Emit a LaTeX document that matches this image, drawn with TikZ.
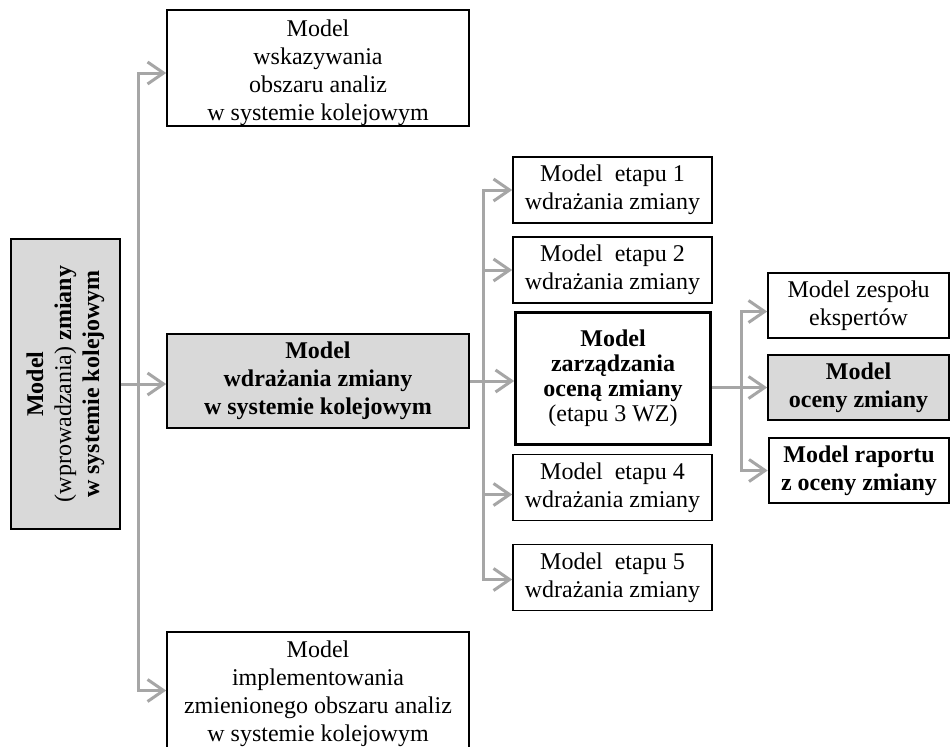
\documentclass[tikz,border=0pt]{standalone}
\usepackage{fontspec}
\setmainfont{Liberation Serif}
\usetikzlibrary{arrows.meta,calc}
\definecolor{boxgray}{HTML}{D9D9D9}
\definecolor{linkgray}{HTML}{A6A6A6}
\tikzset{
  box/.style={draw=black, line width=1.6pt, fill=white, inner sep=0pt, align=center,
              font=\fontsize{24pt}{28pt}\selectfont},
  boldbox/.style={box, font=\fontsize{24pt}{28pt}\selectfont\bfseries},
  shaded/.style={fill=boxgray},
  heavy/.style={line width=2.6pt},
  stagebox/.style={box, minimum width=199pt, minimum height=66pt},
  sidebox/.style={minimum width=181pt, minimum height=65pt},
  link/.style={draw=linkgray, line width=3pt},
  arr/.style={link, -{Straight Barb[length=16pt,width=22pt]}},
}
\begin{document}
\begin{tikzpicture}[x=1pt,y=-1pt]
\useasboundingbox (0,0) rectangle (951,747);
\fill[white] (0,0) rectangle (951,747);

% main model, rotated (its south side faces right)
\node[boldbox, shaded, rotate=90, minimum width=290pt, minimum height=109pt] (L) at (65.5,384)
  {Model\\{\mdseries (wprowadzania)} zmiany\\w systemie kolejowym};

% first level
\node[box, minimum width=302pt, minimum height=116pt] (T) at (318,68)
  {\rule{0pt}{26pt}Model\\wskazywania\\obszaru analiz\\w systemie kolejowym};
\node[boldbox, shaded, minimum width=302pt, minimum height=94pt] (M) at (318,381)
  {Model\\wdrażania zmiany\\w systemie kolejowym};
\node[box, minimum width=302pt, minimum height=117pt] (B) at (318,690.5)
  {\rule{0pt}{24pt}Model\\implementowania\\zmienionego obszaru analiz\\w systemie kolejowym};

% stages of implementation
\node[stagebox] (S1) at (612.5,190) {Model~~etapu 1\\wdrażania zmiany};
\node[stagebox] (S2) at (612.5,270) {Model~~etapu 2\\wdrażania zmiany};
\node[box, heavy, minimum width=195pt, minimum height=132pt,
      font=\fontsize{24pt}{25pt}\selectfont] (S3) at (613,378.5)
  {\textbf{Model}\\\textbf{zarządzania}\\\textbf{oceną zmiany}\\(etapu 3 WZ)};
\node[stagebox] (S4) at (612.5,487.5) {Model~~etapu 4\\wdrażania zmiany};
\node[stagebox] (S5) at (612.5,577.5) {Model~~etapu 5\\wdrażania zmiany};

% assessment components
\node[box, sidebox] (R1) at (858.5,305.5) {Model zespołu\\ekspertów};
\node[boldbox, shaded, sidebox] (R2) at (858.5,387.5) {Model\\oceny zmiany};
\node[boldbox, heavy, sidebox, minimum width=180pt] (R3) at (859,470.5) {Model raportu\\z oceny zmiany};

% connectors
\coordinate (jL) at (138,384);
\draw[arr] (L.south) -- (L.south -| M.west);
\draw[arr] (jL) |- ([yshift=-5pt]T.west);
\draw[arr] (jL) |- (B.west);

\coordinate (jS) at (483,381);
\draw[arr] (M.east) -- (M.east -| S3.west);
\draw[arr] (jS) |- (S1.west);
\draw[arr] (jS) |- (S2.west);
\draw[arr] (jS) |- ([yshift=-7pt]S4.west);
\draw[arr] (jS) |- ([yshift=-2pt]S5.west);

\coordinate (jR) at (741,387.5);
\draw[arr] (R2.west -| S3.east) -- (R2.west);
\draw[arr] (jR) |- ([yshift=-6pt]R1.west);
\draw[arr] (jR) |- (R3.west);
\end{tikzpicture}
\end{document}
